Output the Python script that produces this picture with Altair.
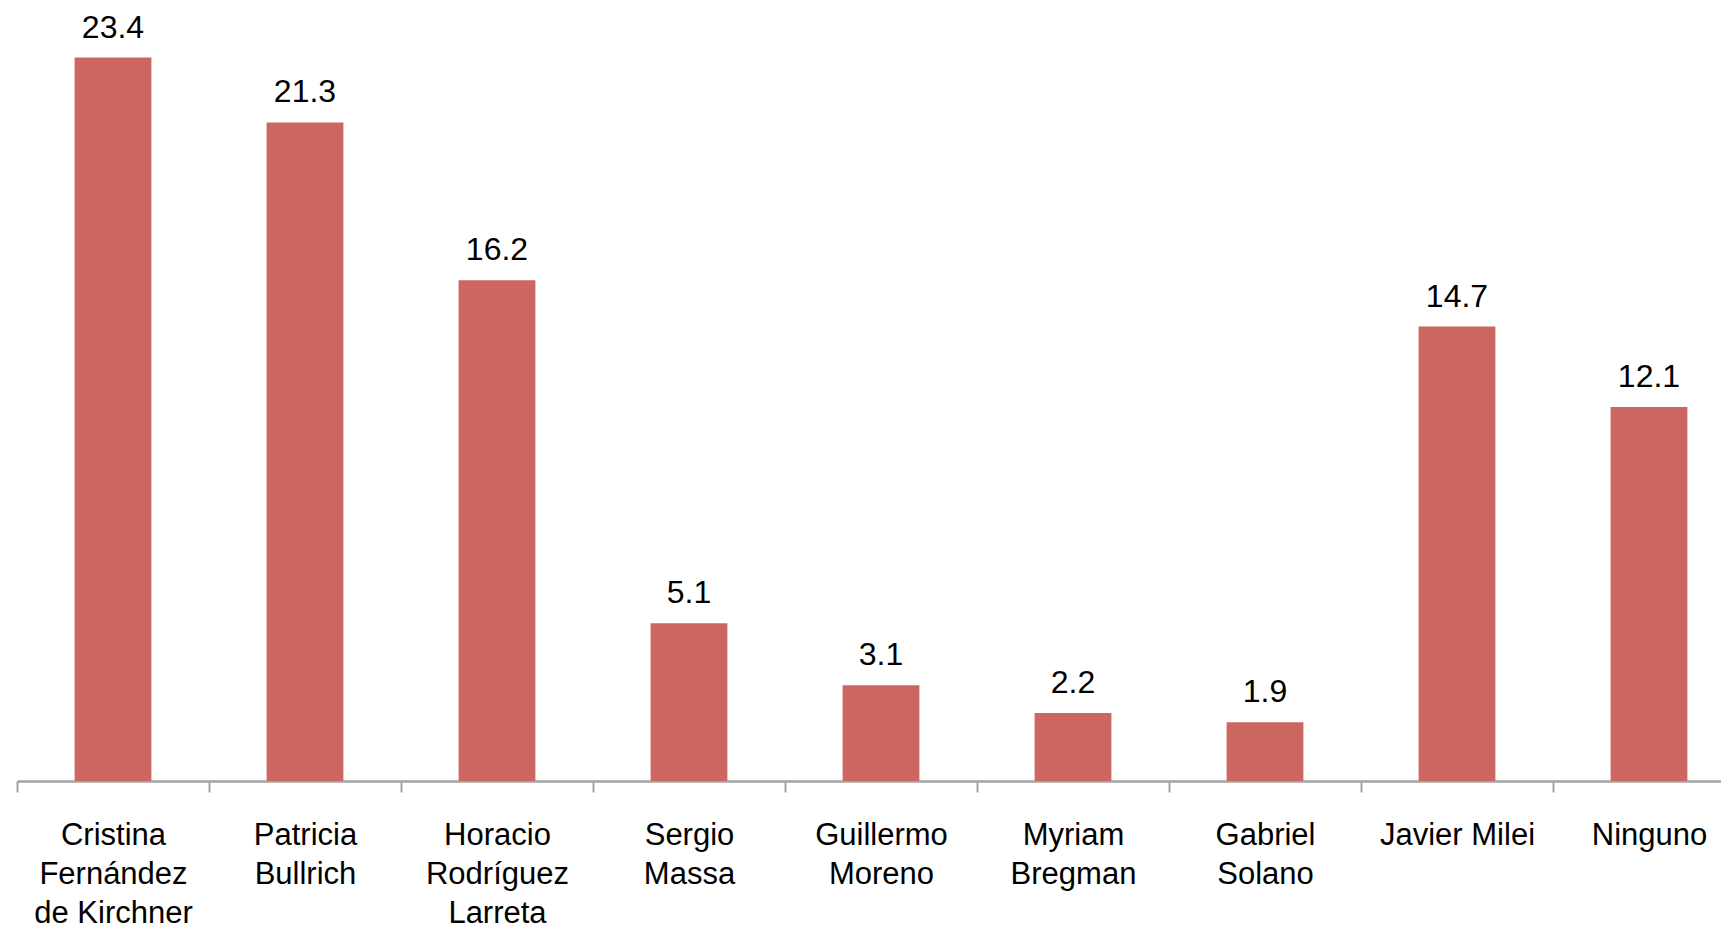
import altair as alt
import pandas as pd

candidates = [
    "Cristina|Fernández|de Kirchner",
    "Patricia|Bullrich",
    "Horacio|Rodríguez|Larreta",
    "Sergio|Massa",
    "Guillermo|Moreno",
    "Myriam|Bregman",
    "Gabriel|Solano",
    "Javier Milei",
    "Ninguno",
]
values = [23.4, 21.3, 16.2, 5.1, 3.1, 2.2, 1.9, 14.7, 12.1]

df = pd.DataFrame({"candidate": candidates, "value": values})

FONT = "Liberation Sans"
BAR = "#CC6660"

x = alt.X(
    "candidate:N",
    sort=candidates,
    scale=alt.Scale(range=[0, 1728], paddingInner=0, paddingOuter=0),
    axis=alt.Axis(
        title=None,
        labelAngle=0,
        labelExpr="split(datum.label, '|')",
        labelFont=FONT,
        labelFontSize=31,
        labelColor="#000000",
        labelLineHeight=39,
        labelPadding=28,
        labelBaseline="top",
        labelLimit=400,
        tickBand="extent",
        tickSize=11,
        tickWidth=2,
        tickColor="#a3a3a3",
        domainColor="#a3a3a3",
        domainWidth=2.5,
        grid=False,
    ),
)
y = alt.Y(
    "value:Q",
    scale=alt.Scale(domain=[0, 24], nice=False),
    axis=None,
)

bars = alt.Chart(df).mark_bar(color=BAR, width={"band": 0.4}).encode(x=x, y=y)
labels = alt.Chart(df).mark_text(
    baseline="alphabetic", dy=-20, font=FONT, fontSize=32, color="#000000"
).encode(x=x, y=y, text=alt.Text("value:Q", format=".1f"))

chart = (
    alt.layer(bars, labels)
    .properties(
        width=1704,
        height=742,
        autosize=alt.AutoSizeParams(type="none"),
        padding={"left": 9, "top": 31, "right": 0, "bottom": 150},
        view=alt.ViewBackground(strokeWidth=0, stroke="transparent"),
    )
    .configure_view(strokeWidth=0, stroke="transparent")
    .configure(background="#ffffff", style={"cell": {"stroke": "transparent", "strokeWidth": 0}})
)

chart.save("out.html", embed_options={"renderer": "svg", "actions": False})
